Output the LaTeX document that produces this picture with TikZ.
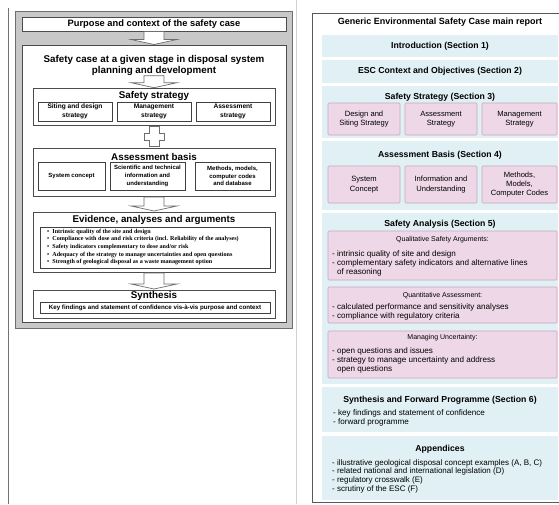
\documentclass[tikz,border=0pt]{standalone}
\usepackage{fontspec}
\setmainfont{Liberation Sans}
\newfontfamily\bulletfont{Liberation Serif}
\usetikzlibrary{positioning, calc}

\definecolor{panelgrey}{HTML}{C8C8C8}
\definecolor{edgegrey}{HTML}{6E6E6E}
\definecolor{bandblue}{HTML}{E0F0F4}
\definecolor{pinkfill}{HTML}{EED8E7}
\definecolor{pinkedge}{HTML}{C8A6BF}

\tikzset{
    pics/downarrow/.style={code={
        \draw[edgegrey, fill=white, line width=0.7pt]
            (-10,-#1/2) -- (10,-#1/2) -- (10,#1/2-5) -- (23,#1/2-5) -- (0,#1/2)
            -- (-23,#1/2-5) -- (-10,#1/2-5) -- cycle;}},
    pics/downarrow/.default=13,
    pics/crossarrow/.style={code={
        \draw[edgegrey, fill=white, line width=0.7pt]
            (-5,-10) -- (5,-10) -- (5,-3.5) -- (10,-3.5) -- (10,3.5) -- (5,3.5) -- (5,10)
            -- (-5,10) -- (-5,3.5) -- (-10,3.5) -- (-10,-3.5) -- (-5,-3.5) -- cycle;}}
}

\begin{document}
\begin{tikzpicture}[x=1pt, y=-1pt,
    greybox/.style={rectangle, draw=edgegrey, line width=1pt, fill=panelgrey, inner sep=0pt},
    whitebox/.style={rectangle, draw=black!70, line width=0.8pt, fill=white, inner sep=0pt},
    subbox/.style={rectangle, draw=black!75, line width=0.7pt, fill=white, inner sep=0pt,
                   align=center, font=\fontsize{6.6}{8.8}\selectfont\bfseries},
    heading/.style={font=\fontsize{9.8}{11}\selectfont\bfseries, inner sep=0pt, align=center},
    bullets/.style={font=\bulletfont\fontsize{6.1}{7.7}\selectfont\bfseries, inner sep=0pt,
                    align=left, anchor=west},
    band/.style={rectangle, fill=bandblue, inner sep=0pt, minimum width=236},
    section/.style={font=\fontsize{8.7}{10}\selectfont\bfseries, inner sep=0pt},
    pinkbox/.style={rectangle, draw=pinkedge, fill=pinkfill, line width=0.6pt, rounded corners=1pt,
                    inner sep=0pt, align=center, font=\fontsize{7.6}{9.5}\selectfont},
    boxtitle/.style={font=\fontsize{7}{9}\selectfont, inner sep=0pt},
    items/.style={font=\fontsize{8.1}{9}\selectfont, inner sep=0pt, align=left, anchor=west}
]
    \useasboundingbox (0,0) rectangle (559,504);

    % Frame lines
    \draw[black!55, line width=1pt] (8,8) -- (8,504);
    \draw[black!18, line width=0.8pt] (296,0) -- (296,504);

    % Left: grey panel
    \node[greybox, minimum width=277, minimum height=317] (panel) at (153.5,169.5) {};
    \node[whitebox, minimum width=264, minimum height=14, font=\fontsize{9.3}{10}\selectfont\bfseries]
        (purpose) at (154,24) {Purpose and context of the safety case};
    \node[whitebox, minimum width=264, minimum height=277] (case) at (154,183.5) {};
    \node[heading] (casetitle) at (154,65.5) {Safety case at a given stage in disposal system\\planning and development};

    % Safety strategy
    \node[whitebox, minimum width=242, minimum height=37] (strat) at (154,106.5) {};
    \node[heading] (strattitle) at (154,96) {Safety strategy};
    \node[subbox, minimum width=74, minimum height=19] (siting) at (75,111.5) {Siting and design\\strategy};
    \node[subbox, minimum width=74, minimum height=19] (mgmt) at (154,111.5) {Management\\strategy};
    \node[subbox, minimum width=74, minimum height=19] (assess) at (233,111.5) {Assessment\\strategy};

    % Assessment basis
    \node[whitebox, minimum width=242, minimum height=48] (basis) at (154,172) {};
    \node[heading] (basistitle) at (154,157) {Assessment basis};
    \node[subbox, minimum width=67, minimum height=28, font=\fontsize{6}{7.6}\selectfont\bfseries]
        (concept) at (71.5,176) {System concept};
    \node[subbox, minimum width=75, minimum height=28, font=\fontsize{6}{7.6}\selectfont\bfseries]
        (science) at (147.5,176) {Scientific and technical\\information and\\understanding};
    \node[subbox, minimum width=75, minimum height=28, font=\fontsize{6}{7.6}\selectfont\bfseries]
        (methods) at (232.5,176) {Methods, models,\\computer codes\\and database};

    % Evidence, analyses and arguments
    \node[whitebox, minimum width=242, minimum height=60] (evidence) at (154,242) {};
    \node[heading] (evidencetitle) at (154,220) {Evidence, analyses and arguments};
    \node[subbox, minimum width=230, minimum height=41] (evidencebox) at (155,247.5) {};
    \node[bullets] (evidencelist) at (47,247) {%
        \textbullet\ \ Intrinsic quality of the site and design\\
        \textbullet\ \ Compliance with dose and risk criteria (incl. Reliability of the analyses)\\
        \textbullet\ \ Safety indicators complementary to dose and/or risk\\
        \textbullet\ \ Adequacy of the strategy to manage uncertainties and open questions\\
        \textbullet\ \ Strength of geological disposal as a waste management option};

    % Synthesis
    \node[whitebox, minimum width=242, minimum height=28] (synth) at (154,304) {};
    \node[heading] (synthtitle) at (154,295.5) {Synthesis};
    \node[subbox, minimum width=230, minimum height=11, font=\fontsize{6.2}{7}\selectfont\bfseries]
        (findings) at (155,307.5) {Key findings and statement of confidence vis-\`a-vis purpose and context};

    % Block arrows between the stages
    \path ($(purpose.south)!0.5!(case.north)$) pic {downarrow};
    \path ($(casetitle.south)!0.5!(strat.north)$) pic {downarrow=12};
    \path ($(strat.south)!0.5!(basis.north)$) pic {crossarrow};
    \path ($(basis.south)!0.5!(evidence.north)$) pic {downarrow=14};
    \path ($(evidence.south)!0.5!(synth.north)$) pic {downarrow=16};

    % Right: main report
    \node[rectangle, draw=black!65, line width=0.8pt, minimum width=253, minimum height=489] (report) at (438.5,257.5) {};
    \node[section, font=\fontsize{9}{10}\selectfont\bfseries] (reporttitle) at (440,22) {Generic Environmental Safety Case main report};

    \node[band, minimum height=22, font=\fontsize{8.7}{10}\selectfont\bfseries] (intro) at (440,46) {Introduction (Section 1)};
    \node[band, minimum height=23, font=\fontsize{8.7}{10}\selectfont\bfseries] (context) at (440,71.5) {ESC Context and Objectives (Section 2)};

    % Section 3
    \node[band, minimum height=52] (sec3) at (440,112) {};
    \node[section] (sec3title) at (440,97) {Safety Strategy (Section 3)};
    \node[pinkbox, minimum width=72, minimum height=32] (design) at (364,119) {Design and\\Siting Strategy};
    \node[pinkbox, minimum width=72, minimum height=32] (assessstrat) at (441,119) {Assessment\\Strategy};
    \node[pinkbox, minimum width=75, minimum height=32] (mgmtstrat) at (519.5,119) {Management\\Strategy};

    % Section 4
    \node[band, minimum height=69] (sec4) at (440,175.5) {};
    \node[section] (sec4title) at (440,155) {Assessment Basis (Section 4)};
    \node[pinkbox, minimum width=72, minimum height=37] (sysconcept) at (364,184.5) {System\\Concept};
    \node[pinkbox, minimum width=72, minimum height=37] (info) at (441,184.5) {Information and\\Understanding};
    \node[pinkbox, minimum width=75, minimum height=37, font=\fontsize{7.6}{9}\selectfont] (codes) at (519.5,184.5) {Methods,\\Models,\\Computer Codes};

    % Section 5
    \node[band, minimum height=171] (sec5) at (440,298.5) {};
    \node[section] (sec5title) at (440,224) {Safety Analysis (Section 5)};
    \node[pinkbox, minimum width=229, minimum height=49] (qual) at (442.5,255.5) {};
    \node[boxtitle] (qualtitle) at (442.5,240) {Qualitative Safety Arguments:};
    \node[items] (qualitems) at (332,263) {- intrinsic quality of site and design\\
        - complementary safety indicators and alternative lines\\
        \phantom{- }of reasoning};
    \node[pinkbox, minimum width=229, minimum height=36] (quant) at (442.5,305) {};
    \node[boxtitle] (quanttitle) at (442.5,296) {Quantitative Assessment:};
    \node[items] (quantitems) at (332,311.5) {- calculated performance and sensitivity analyses\\
        - compliance with regulatory criteria};
    \node[pinkbox, minimum width=229, minimum height=47] (uncert) at (442.5,354.5) {};
    \node[boxtitle] (uncerttitle) at (442.5,338) {Managing Uncertainty:};
    \node[items] (uncertitems) at (332,360) {- open questions and issues\\
        - strategy to manage uncertainty and address\\
        \phantom{- }open questions};

    % Section 6
    \node[band, minimum height=45] (sec6) at (440,409.5) {};
    \node[section] (sec6title) at (440,400) {Synthesis and Forward Programme (Section 6)};
    \node[items, font=\fontsize{8.1}{9}\selectfont] (sec6items) at (333,417.5) {- key findings and statement of confidence\\
        - forward programme};

    % Appendices
    \node[band, minimum height=64] (appx) at (440,468) {};
    \node[section] (appxtitle) at (440,449) {Appendices};
    \node[items, font=\fontsize{8}{8.7}\selectfont] (appxitems) at (332,476) {%
        - illustrative geological disposal concept examples (A, B, C)\\
        - related national and international legislation (D)\\
        - regulatory crosswalk (E)\\
        - scrutiny of the ESC (F)};

\end{tikzpicture}
\end{document}
